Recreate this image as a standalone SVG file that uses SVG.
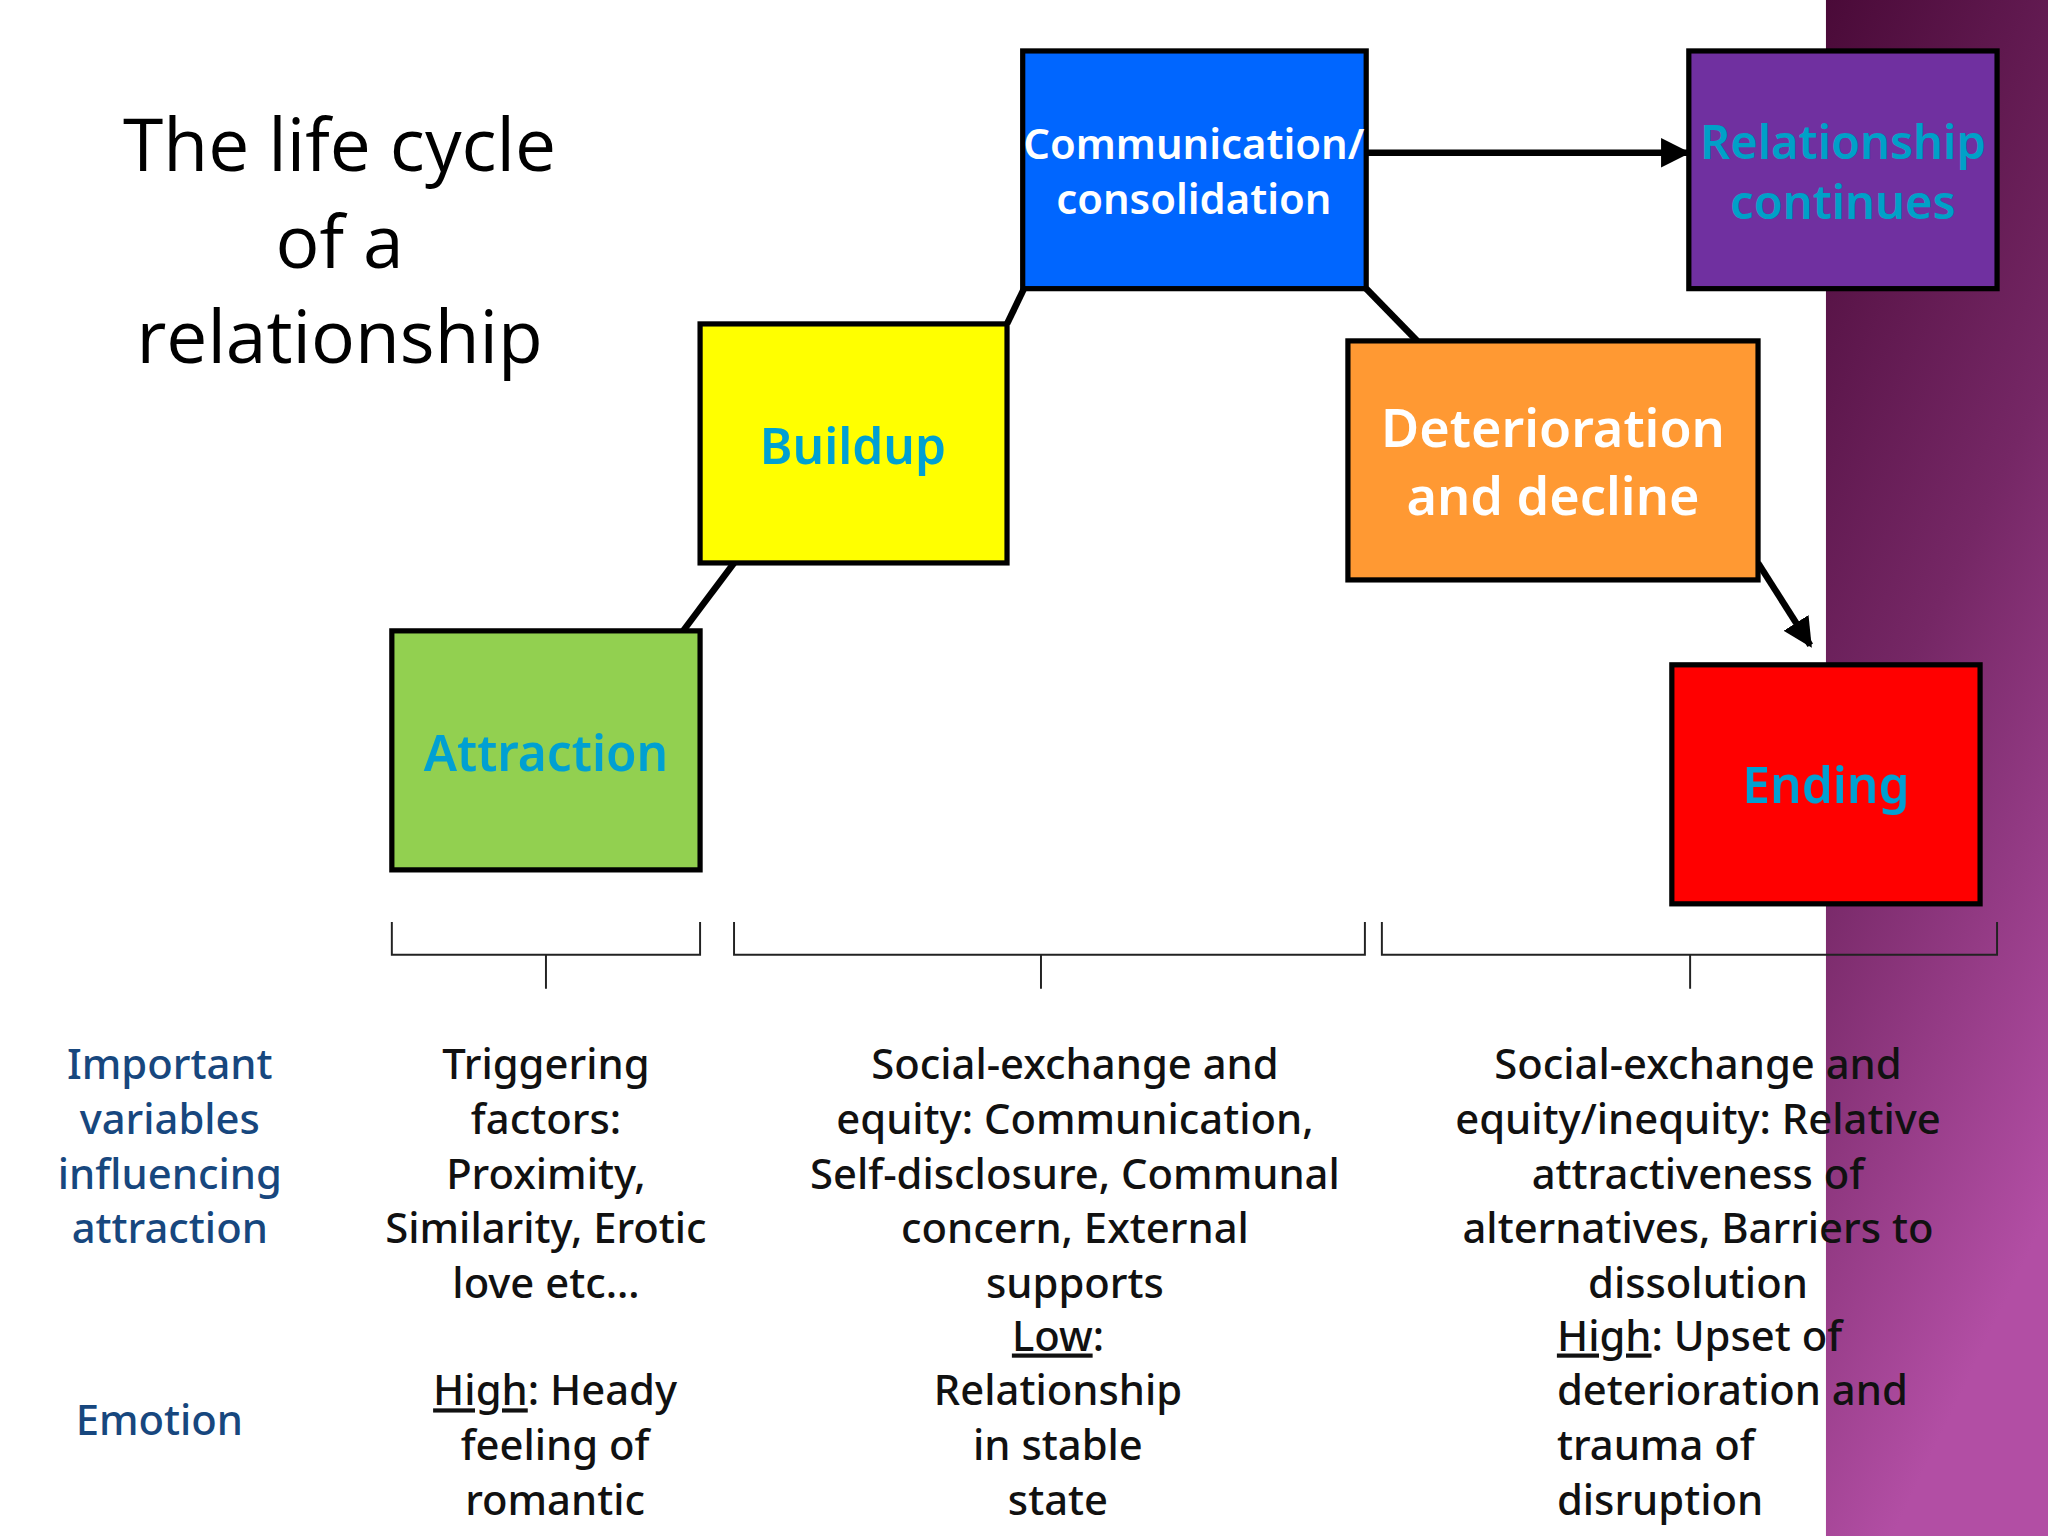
<svg xmlns="http://www.w3.org/2000/svg" width="2048" height="1536" viewBox="0 0 2048 1536" xml:space="preserve">
<defs>
<linearGradient id="pg" x1="0" y1="0" x2="0.3" y2="1"><stop offset="0" stop-color="#4a0a38"/><stop offset="0.5" stop-color="#752765"/><stop offset="1" stop-color="#b24ea4"/></linearGradient>
<marker id="ah" viewBox="0 0 10 10" refX="9" refY="5" markerWidth="4.5" markerHeight="4.5" orient="auto"><path d="M0,0L10,5L0,10z" fill="#000"/></marker>
<style>
.b{stroke:#000;stroke-width:4}
.t{font-family:"Noto Sans","DejaVu Sans",sans-serif;font-size:32px;font-weight:500;fill:#111;text-anchor:middle}
.l{font-family:"Noto Sans","DejaVu Sans",sans-serif;font-size:32px;font-weight:500;fill:#17477e;text-anchor:middle}
.n{font-family:"Noto Sans","DejaVu Sans",sans-serif;font-weight:600;text-anchor:middle}
.c{stroke:#000;stroke-width:5;fill:none}
.br{stroke:#222;stroke-width:1.5;fill:none}
</style>
</defs>
<g transform="scale(1.30612)">
<rect width="1568" height="1176" fill="#fff"/>
<rect x="1398" y="0" width="170" height="1176" fill="url(#pg)"/>
<g font-family="Open Sans,Noto Sans,sans-serif" font-size="56" font-weight="500" text-anchor="middle" fill="#000">
<text x="260" y="131">The life cycle</text><text x="260" y="205">of a</text><text x="260" y="278">relationship</text>
</g>
<g id="connectors">
<line class="c" x1="523" y1="483" x2="562" y2="431"/>
<line class="c" x1="771" y1="248" x2="784" y2="221"/>
<line class="c" x1="1046" y1="117" x2="1292" y2="117" marker-end="url(#ah)"/>
<line class="c" x1="1046" y1="221" x2="1085" y2="261"/>
<line class="c" x1="1346" y1="431" x2="1386" y2="494" marker-end="url(#ah)"/>
</g>
<g id="attraction"><rect class="b" x="300" y="483" width="236" height="183" fill="#92d050"/><text class="n" x="418" y="590" font-size="38" fill="#00a0d2">Attraction</text></g>
<g id="buildup"><rect class="b" x="536" y="248" width="235" height="183" fill="#ffff00"/><text class="n" x="653" y="355" font-size="38" fill="#00a0d2">Buildup</text></g>
<g id="communication"><rect class="b" x="783" y="39" width="263" height="182" fill="#0066ff"/><text class="n" x="914" y="122" font-size="32" fill="#fff">Communication/</text><text class="n" x="914" y="164" font-size="32" fill="#fff">consolidation</text></g>
<g id="continues"><rect class="b" x="1293" y="39" width="236" height="182" fill="#7030a0"/><text class="n" x="1411" y="122" font-size="36" fill="#00a0c8">Relationship</text><text class="n" x="1411" y="168" font-size="36" fill="#00a0c8">continues</text></g>
<g id="deterioration"><rect class="b" x="1032" y="261" width="314" height="183" fill="#ff9933"/><text class="n" x="1189" y="342" font-size="40" fill="#fff">Deterioration</text><text class="n" x="1189" y="394" font-size="40" fill="#fff">and decline</text></g>
<g id="ending"><rect class="b" x="1280" y="509" width="236" height="183" fill="#ff0000"/><text class="n" x="1398" y="615" font-size="38" fill="#00a0d2">Ending</text></g>
<g id="brackets">
<path class="br" d="M300,706V731H536V706M418,731V757"/>
<path class="br" d="M562,706V731H1045V706M797,731V757"/>
<path class="br" d="M1058,706V731H1529V706M1294,731V757"/>
</g>
<g id="labels">
<text class="l" x="130" y="826">Important</text><text class="l" x="130" y="868">variables</text><text class="l" x="130" y="910">influencing</text><text class="l" x="130" y="952">attraction</text>
<text class="l" x="122" y="1099">Emotion</text>
</g>
<g id="col1">
<text class="t" x="418" y="826">Triggering</text><text class="t" x="418" y="868">factors:</text><text class="t" x="418" y="910">Proximity,</text><text class="t" x="418" y="952">Similarity, Erotic</text><text class="t" x="418" y="994">love etc…</text>
<text class="t" x="425" y="1076"><tspan text-decoration="underline">High</tspan>:  Heady</text><text class="t" x="425" y="1118">feeling of</text><text class="t" x="425" y="1160">romantic</text>
</g>
<g id="col2">
<text class="t" x="823" y="826">Social-exchange and</text><text class="t" x="823" y="868">equity:  Communication,</text><text class="t" x="823" y="910">Self-disclosure, Communal</text><text class="t" x="823" y="952">concern, External</text><text class="t" x="823" y="994">supports</text>
<text class="t" x="810" y="1034"><tspan text-decoration="underline">Low</tspan>:</text><text class="t" x="810" y="1076">Relationship</text><text class="t" x="810" y="1118">in stable</text><text class="t" x="810" y="1160">state</text>
</g>
<g id="col3">
<text class="t" x="1300" y="826">Social-exchange and</text><text class="t" x="1300" y="868">equity/inequity:  Relative</text><text class="t" x="1300" y="910">attractiveness of</text><text class="t" x="1300" y="952">alternatives, Barriers to</text><text class="t" x="1300" y="994">dissolution</text>
<text class="t" x="1192" y="1034" style="text-anchor:start"><tspan text-decoration="underline">High</tspan>:  Upset of</text><text class="t" x="1192" y="1076" style="text-anchor:start">deterioration and</text><text class="t" x="1192" y="1118" style="text-anchor:start">trauma of</text><text class="t" x="1192" y="1160" style="text-anchor:start">disruption</text>
</g>
</g>
</svg>
